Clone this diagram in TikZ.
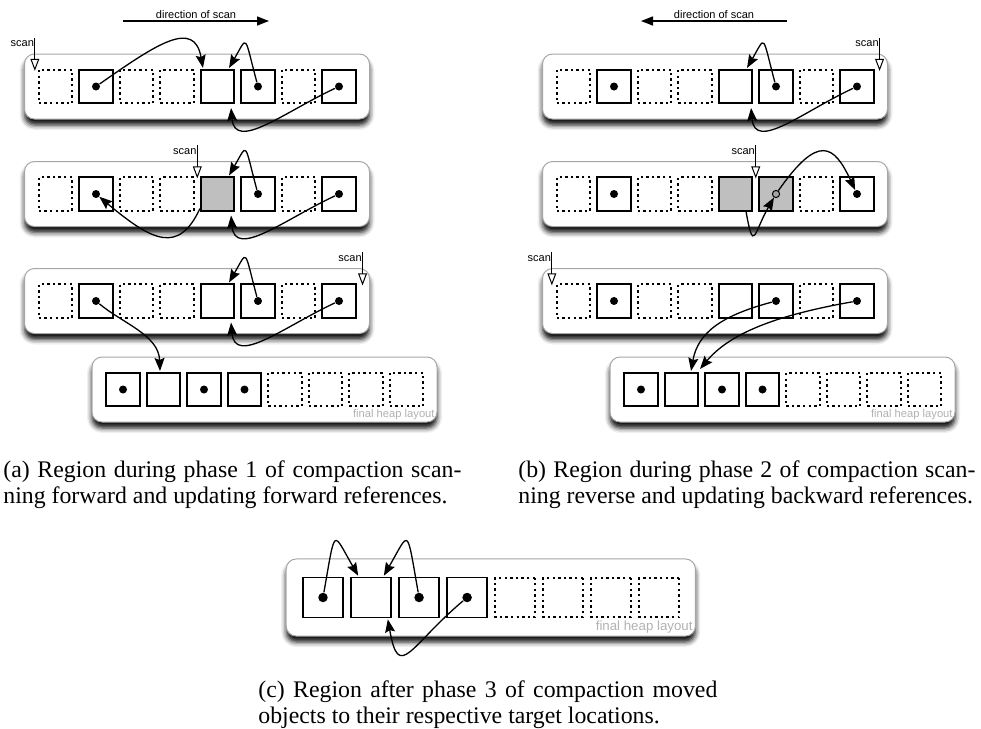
\documentclass[tikz,border=0pt]{standalone}
\usepackage{fontspec}
\setmainfont{Liberation Serif}
\setsansfont{Liberation Sans}
\usetikzlibrary{arrows.meta,calc,shadows.blur}

% one heap region: rounded box plus eight cells of the given kinds
\newcommand\heaprow[2]{%
  \node[regionbox] (#1box) at (141.5,0) {};
  \foreach \k [count=\i] in {#2}
    \node[kind/.expanded=\k] (#1c\i) at ({40.5*(\i-1)},0) {};
}
% caption inside a final-layout box
\newcommand\heapcaption[1]{%
  \node[heaplabel, anchor=base east] (#1lbl) at (312,-27.5) {final heap layout};
}
% scan pointer ending at the given point
\newcommand\scanmark[2]{%
  \coordinate (#1Tip) at #2;
  \coordinate (#1Top) at ($(#1Tip)+(0,33)$);
  \draw[scanptr] (#1Top) -- (#1Tip);
  \node[smalltext, anchor=base east] (#1Lbl) at ($(#1Top)+(-0.5,-9)$) {scan};
}

\begin{document}
\begin{tikzpicture}[x=0.5pt, y=0.5pt,
  regionbox/.style={draw=black!35, line width=0.5pt, fill=white, rounded corners=5pt,
    minimum width=172.5pt, minimum height=32.5pt, inner sep=0pt,
    blur shadow={shadow xshift=0pt, shadow yshift=-3pt, shadow blur radius=2.5pt, shadow opacity=95}},
  cellbase/.style={draw=black, line width=0.8pt, minimum size=16.75pt, inner sep=0pt},
  kS/.style={cellbase},
  kD/.style={cellbase, line width=0.9pt, dash pattern=on 1.2pt off 1.6pt},
  kG/.style={cellbase, fill=gray!50},
  kind/.style={k#1},
  dotn/.style={circle, fill=black, minimum size=4pt, inner sep=0pt},
  ring/.style={circle, fill=gray!70, draw=black, line width=0.5pt, minimum size=3.6pt, inner sep=0pt},
  ref/.style={line width=0.65pt, -{Stealth[length=6.5pt, width=5pt, inset=1pt]}},
  scanptr/.style={line width=0.5pt, -{Triangle[length=6pt, width=4.4pt, fill=white]}},
  dirarrow/.style={line width=0.7pt, -{Triangle[length=6pt, width=4.5pt]}},
  smalltext/.style={font=\sffamily\fontsize{5.5pt}{6pt}\selectfont, inner sep=0pt},
  heaplabel/.style={font=\sffamily\fontsize{5.6pt}{6pt}\selectfont, text=black!30, inner sep=0pt},
  caption/.style={font=\fontsize{11.9pt}{13pt}\selectfont, inner sep=0pt, anchor=base west}]
\useasboundingbox (0,0) rectangle (981,-729);

% ---------------- (a) forward scan ----------------
\node[smalltext, anchor=base] (adir) at (196,-18.3) {direction of scan};
\coordinate (adirFrom) at (123,-21);
\coordinate (adirTo) at (269,-21);
\draw[dirarrow] (adirFrom) -- (adirTo);

\begin{scope}[shift={(55.5,-86.5)}]
  \heaprow{a1}{D,S,D,D,S,S,D,S}
  \foreach \j in {2,6,8} \node[dotn] (a1d\j) at (a1c\j) {};
\end{scope}
\begin{scope}[shift={(55.5,-194)}]
  \heaprow{a2}{D,S,D,D,G,S,D,S}
  \foreach \j in {2,6,8} \node[dotn] (a2d\j) at (a2c\j) {};
\end{scope}
\begin{scope}[shift={(55.5,-301)}]
  \heaprow{a3}{D,S,D,D,S,S,D,S}
  \foreach \j in {2,6,8} \node[dotn] (a3d\j) at (a3c\j) {};
\end{scope}
\begin{scope}[shift={(123,-389.5)}]
  \heaprow{af}{S,S,S,S,D,D,D,D}
  \foreach \j in {1,3,4} \node[dotn] (afd\j) at (afc\j) {};
  \heapcaption{af}
\end{scope}

\scanmark{a1s}{($(a1c1.north west)+(-3,-2)$)}
\scanmark{a2s}{($(a2c4.north east)!0.5!(a2c5.north west)+(0,-2)$)}
\scanmark{a3s}{($(a3c8.north east)+(6,-2)$)}

\draw[ref] (a1d2) to[out=35, in=100, out distance=35pt, in distance=25pt] ($(a1c5.north west)+(3,1)$);
\draw[ref] (a1d6) to[out=105, in=60, out distance=25pt, in distance=19pt] ($(a1c5.north east)+(-6,1)$);
\draw[ref] (a1d8) to[out=205, in=275, out distance=28pt, in distance=22pt] ($(a1c5.south east)+(-4,-4)$);

\draw[ref] ($(a2c5.south west)+(0,3)$) to[out=245, in=320, out distance=25pt, in distance=35pt] (a2d2);
\draw[ref] (a2d6) to[out=105, in=60, out distance=25pt, in distance=19pt] ($(a2c5.north east)+(-6,1)$);
\draw[ref] (a2d8) to[out=205, in=275, out distance=28pt, in distance=22pt] ($(a2c5.south east)+(-4,-4)$);

\draw[ref] (a3d6) to[out=105, in=60, out distance=25pt, in distance=19pt] ($(a3c5.north east)+(-6,1)$);
\draw[ref] (a3d8) to[out=205, in=275, out distance=28pt, in distance=22pt] ($(a3c5.south east)+(-4,-4)$);
\draw[ref] (a3d2) to[out=-40, in=92, out distance=15pt, in distance=18pt] ($(afc2.north)+(-3.5,1)$);

% ---------------- (b) reverse scan ----------------
\node[smalltext, anchor=base] (bdir) at (714,-18.3) {direction of scan};
\coordinate (bdirFrom) at (787,-21);
\coordinate (bdirTo) at (641,-21);
\draw[dirarrow] (bdirFrom) -- (bdirTo);

\begin{scope}[shift={(573.5,-86.5)}]
  \heaprow{b1}{D,S,D,D,S,S,D,S}
  \foreach \j in {2,6,8} \node[dotn] (b1d\j) at (b1c\j) {};
\end{scope}
\begin{scope}[shift={(573.5,-194)}]
  \heaprow{b2}{D,S,D,D,G,G,D,S}
  \foreach \j in {2,8} \node[dotn] (b2d\j) at (b2c\j) {};
  \node[ring] (b2r6) at (b2c6) {};
\end{scope}
\begin{scope}[shift={(573.5,-301)}]
  \heaprow{b3}{D,S,D,D,S,S,D,S}
  \foreach \j in {2,6,8} \node[dotn] (b3d\j) at (b3c\j) {};
\end{scope}
\begin{scope}[shift={(641,-389.5)}]
  \heaprow{bf}{S,S,S,S,D,D,D,D}
  \foreach \j in {1,3,4} \node[dotn] (bfd\j) at (bfc\j) {};
  \heapcaption{bf}
\end{scope}

\scanmark{b1s}{($(b1c8.north east)+(5,-2)$)}
\scanmark{b2s}{($(b2c5.north east)!0.5!(b2c6.north west)+(0,-2)$)}
\scanmark{b3s}{($(b3c1.north west)+(-4,-2)$)}

\draw[ref] (b1d6) to[out=105, in=60, out distance=25pt, in distance=19pt] ($(b1c5.north east)+(-6,1)$);
\draw[ref] (b1d8) to[out=205, in=275, out distance=28pt, in distance=22pt] ($(b1c5.south east)+(-2,-4)$);

\draw[ref] (b2r6) to[out=55, in=115, out distance=35pt, in distance=25pt] (b2d8);
\draw[ref] ($(b2c5.south east)+(-7,0)$) to[out=280, in=240, out distance=22pt, in distance=20pt] (b2r6);

\draw[ref] (b3d6) to[out=195, in=80, out distance=25pt, in distance=20pt] ($(bfc2.north east)+(-8,1)$);
\draw[ref] (b3d8) to[out=190, in=50, out distance=35pt, in distance=25pt] ($(bfc2.north east)+(1,3)$);

% ---------------- (c) after moving ----------------
\begin{scope}[shift={(323,-597.5)}, scale=1.186, transform shape]
  \heaprow{c}{S,S,S,S,D,D,D,D}
  \foreach \j in {1,3,4} \node[dotn] (cd\j) at (cc\j) {};
  \heapcaption{c}
\end{scope}

\draw[ref] (cd1) to[out=80, in=120, out distance=34pt, in distance=26pt] ($(cc2.north west)+(8,1)$);
\draw[ref] (cd3) to[out=100, in=60, out distance=34pt, in distance=26pt] ($(cc2.north east)+(-8,1)$);
\draw[ref] (cd4) to[out=220, in=280, out distance=35pt, in distance=32pt] ($(cc2.south east)+(-4,-1)$);

% ---------------- captions ----------------
\node[caption] (capa1) at (3,-477) {\makebox[229pt][s]{(a) Region during phase 1 of compaction scan-}};
\node[caption] (capa2) at (3,-503) {ning forward and updating forward references.};
\node[caption] (capb1) at (518,-477) {\makebox[228.5pt][s]{(b) Region during phase 2 of compaction scan-}};
\node[caption] (capb2) at (518,-503) {ning reverse and updating backward references.};
\node[caption] (capc1) at (258,-697) {\makebox[229.5pt][s]{(c) Region after phase 3 of compaction moved}};
\node[caption] (capc2) at (258,-723) {objects to their respective target locations.};
\end{tikzpicture}
\end{document}
